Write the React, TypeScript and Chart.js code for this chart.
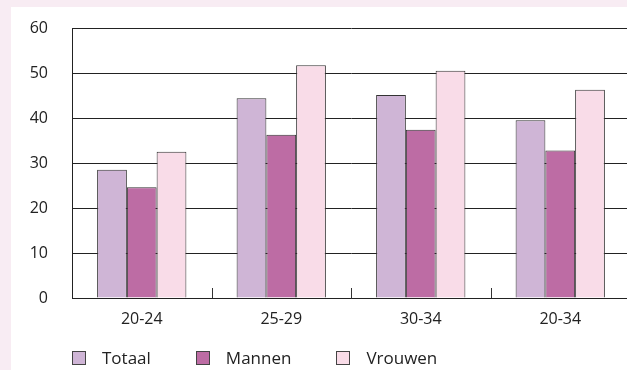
import React, { useEffect, useRef } from 'react';
import { Chart, registerables } from 'chart.js';

Chart.register(...registerables);

const categories = ['20-24', '25-29', '30-34', '20-34'];
const seriesNames = ['Totaal', 'Mannen', 'Vrouwen'];
const totaal = [28.5, 44.4, 45.1, 39.5];
const mannen = [24.6, 36.3, 37.4, 32.8];
const vrouwen = [32.5, 51.7, 50.5, 46.3];
const yMin = 0;
const yMax = 60;
const yStep = 10;
const seriesColors = ['#cfb5d6', '#bd6ca4', '#f9dce8'];

const FONT = "'Open Sans', 'DejaVu Sans', sans-serif";

const categoryTicks = {
  id: 'categoryTicks',
  afterDatasetsDraw(chart: any) {
    const x = chart.scales.x;
    const y = chart.scales.y;
    const ctx = chart.ctx;
    const base = y.getPixelForValue(yMin);
    ctx.save();
    ctx.strokeStyle = '#333';
    ctx.lineWidth = 1;
    for (let i = 1; i < categories.length; i++) {
      const px = (x.getPixelForValue(i - 1) + x.getPixelForValue(i)) / 2;
      const xx = Math.round(px) + 0.5;
      ctx.beginPath();
      ctx.moveTo(xx, base);
      ctx.lineTo(xx, base - 10);
      ctx.stroke();
    }
    ctx.restore();
  },
};

export default function App() {
  const ref = useRef<HTMLCanvasElement | null>(null);

  useEffect(() => {
    document.body.style.margin = '0';
    const canvas = ref.current;
    if (!canvas) return;
    const values = [totaal, mannen, vrouwen];
    const chart = new Chart(canvas, {
      type: 'bar',
      data: {
        labels: categories,
        datasets: seriesNames.map((name, i) => ({
          label: name,
          data: values[i],
          backgroundColor: seriesColors[i],
          borderColor: '#333333',
          borderWidth: 1,
          barPercentage: 1,
          categoryPercentage: 0.64,
        })),
      },
      options: {
        animation: false,
        responsive: false,
        devicePixelRatio: 1,
        layout: { padding: { top: 28, right: 10, left: 0, bottom: 0 } },
        plugins: {
          legend: { display: false },
          tooltip: { enabled: false },
        },
        scales: {
          x: {
            grid: { display: false, drawTicks: false },
            border: { display: true, color: '#222', width: 1 },
            ticks: {
              color: '#222',
              font: { family: FONT, size: 16 },
              padding: 12,
            },
            afterFit: (s: any) => {
              s.height = 72;
            },
          },
          y: {
            min: yMin,
            max: yMax,
            ticks: {
              stepSize: yStep,
              color: '#222',
              font: { family: FONT, size: 16 },
              padding: 0,
            },
            grid: {
              color: '#222',
              lineWidth: 1,
              drawTicks: true,
              tickLength: 24,
              tickColor: 'rgba(0,0,0,0)',
            },
            border: { display: true, color: '#222', width: 1 },
            afterFit: (s: any) => {
              s.width = 72;
            },
          },
        },
      },
      plugins: [categoryTicks],
    });
    return () => chart.destroy();
  }, []);

  return (
    <div
      style={{
        position: 'relative',
        width: 627,
        height: 370,
        overflow: 'hidden',
        background: '#f8ecf3',
      }}
    >
      <div
        style={{
          position: 'absolute',
          left: 11,
          top: 7,
          right: 0,
          bottom: 0,
          background: '#ffffff',
        }}
      />
      <canvas
        ref={ref}
        width={640}
        height={370}
        style={{ position: 'absolute', left: 0, top: 0, width: 640, height: 370, display: 'block' }}
      />
      <div
        style={{
          position: 'absolute',
          left: 72,
          top: 347,
          display: 'flex',
          alignItems: 'center',
          gap: 45,
          fontFamily: FONT,
          fontSize: 17,
          color: '#222',
          lineHeight: '22px',
        }}
      >
        {seriesNames.map((name, i) => (
          <div key={name} style={{ display: 'flex', alignItems: 'center' }}>
            <span
              style={{
                display: 'inline-block',
                width: 14,
                height: 14,
                boxSizing: 'border-box',
                border: '1px solid #444',
                background: seriesColors[i],
                marginRight: 16,
              }}
            />
            <span>{name}</span>
          </div>
        ))}
      </div>
    </div>
  );
}
